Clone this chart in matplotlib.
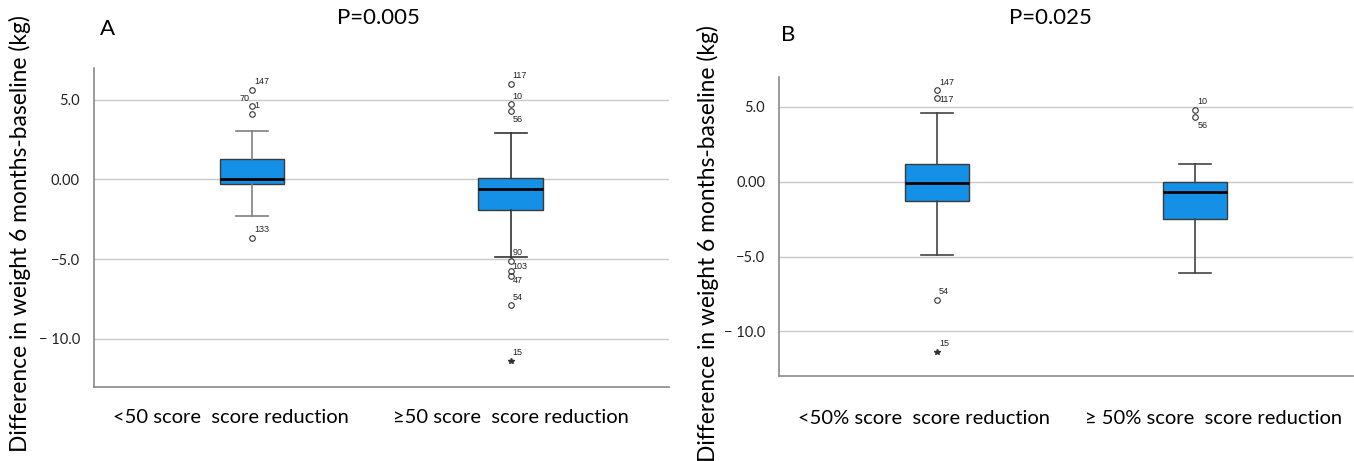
import numpy as np
import matplotlib.pyplot as plt

# --- data ---
groups_a = ["<50 score  score reduction", "\u226550 score  score reduction"]
groups_b = ["<50% score  score reduction", "\u2265 50% score  score reduction"]

a_whislo = [-2.28, -4.88]
a_q1 = [-0.29, -1.90]
a_med = [0.03, -0.58]
a_q3 = [1.31, 0.10]
a_whishi = [3.02, 2.92]
a_out = [[5.60, 4.63, 4.10, -3.69], [6.00, 4.70, 4.30, -5.10, -5.77, -6.08, -7.90]]
a_out_ids = [["147", "70", "1", "133"], ["117", "10", "56", "90", "103", "47", "54"]]
a_ext = [[], [-11.40]]
a_ext_ids = [[], ["15"]]

b_whislo = [-4.87, -6.07]
b_q1 = [-1.29, -2.52]
b_med = [-0.09, -0.69]
b_q3 = [1.20, -0.02]
b_whishi = [4.62, 1.16]
b_out = [[6.10, 5.60, -7.88], [4.80, 4.33]]
b_out_ids = [["147", "117", "54"], ["10", "56"]]
b_ext = [[-11.38], []]
b_ext_ids = [["15"], []]

ytick_vals = [5, 0, -5, -10]
ytick_labels = ["5.0", "0.00", "\u22125.0", "\u2212 10.0"]

# where the id label sits relative to its point (points)
UR = (1.5, 6.0)
label_pos = {
    ("A", 0, "70"): (-2.0, 5.0, "right"),
    ("A", 1, "56"): (1.5, -6.0, "left"),
    ("A", 1, "103"): (1.5, 3.5, "left"),
    ("A", 1, "47"): (1.5, -3.0, "left"),
    ("B", 0, "117"): (1.5, -1.0, "left"),
    ("B", 1, "56"): (1.5, -6.5, "left"),
}

BLUE = "#1490e6"
plt.rcParams["font.family"] = ["Lato", "DejaVu Sans"]

fig = plt.figure(figsize=(13.54, 4.61), dpi=100)
ax_a = fig.add_axes([0.0692, 0.161, 0.4248, 0.692])
ax_b = fig.add_axes([0.5753, 0.184, 0.424, 0.649])


def draw_panel(ax, tag, lo, q1, med, q3, hi, outs, out_ids, exts, ext_ids, names,
               whisk_cols, xpad, label_x):
    stats = []
    for i in range(len(names)):
        stats.append(dict(whislo=lo[i], q1=q1[i], med=med[i], q3=q3[i], whishi=hi[i], fliers=[]))
    for i, s in enumerate(stats):
        ax.bxp([s], positions=[i + 1], widths=0.25, patch_artist=True, showfliers=False,
               boxprops=dict(facecolor=BLUE, edgecolor="#3a3a3a", linewidth=1.0),
               medianprops=dict(color="black", linewidth=2.0),
               whiskerprops=dict(color=whisk_cols[i], linewidth=1.2),
               capprops=dict(color=whisk_cols[i], linewidth=1.2),
               capwidths=0.125, zorder=3)
    for i in range(len(names)):
        x = np.full(len(outs[i]), i + 1.0)
        ax.plot(x, outs[i], "o", ms=4, mfc="none", mec="#333333", mew=0.8, zorder=4)
        xe = np.full(len(exts[i]), i + 1.0)
        ax.plot(xe, exts[i], "*", ms=4, color="#333333", zorder=4)
        for v, lab in list(zip(outs[i], out_ids[i])) + list(zip(exts[i], ext_ids[i])):
            dx, dy, ha = label_pos.get((tag, i, lab), (UR[0], UR[1], "left"))
            ax.annotate(lab, (i + 1, v), xytext=(dx, dy), textcoords="offset points",
                        ha=ha, va="center", fontsize=6.5,
                        family=["Liberation Sans Narrow", "Liberation Sans"], color="#222222")

    ax.set_xlim(0.389, 2.611)
    ax.set_ylim(-13, 7)
    ax.set_yticks(ytick_vals)
    ax.set_yticklabels(ytick_labels)
    # category labels are not quite centred under the boxes in the original
    ax.set_xticks(label_x)
    ax.set_xticklabels(names, fontsize=14.5)
    ax.tick_params(axis="both", length=0)
    ax.tick_params(axis="y", labelsize=10.5, pad=10, labelcolor="#222222")
    ax.tick_params(axis="x", pad=xpad)
    ax.grid(axis="y", color="#c8c8c8", linewidth=1.0, zorder=0)
    ax.set_axisbelow(True)
    for side in ["top", "right"]:
        ax.spines[side].set_visible(False)
    for side in ["left", "bottom"]:
        ax.spines[side].set_color("#8a8a8a")
        ax.spines[side].set_linewidth(1.2)


draw_panel(ax_a, "A", a_whislo, a_q1, a_med, a_q3, a_whishi, a_out, a_out_ids,
           a_ext, a_ext_ids, groups_a, ["#808080", "#333333"], 16, [0.92, 2.0])
draw_panel(ax_b, "B", b_whislo, b_q1, b_med, b_q3, b_whishi, b_out, b_out_ids,
           b_ext, b_ext_ids, groups_b, ["#444444", "#444444"], 24, [0.95, 2.07])

ylab = "Difference in weight 6 months-baseline (kg)"
fig.text(20 / 1354, 1 - 234 / 461, ylab, rotation=90, ha="center", va="center", fontsize=16.4)
fig.text(708 / 1354, 1 - 244 / 461, ylab, rotation=90, ha="center", va="center", fontsize=16.4)

fig.text(108 / 1354, 1 - 29 / 461, "A", ha="center", va="center", fontsize=16)
fig.text(378 / 1354, 1 - 18 / 461, "P=0.005", ha="center", va="center", fontsize=16)
fig.text(788 / 1354, 1 - 35 / 461, "B", ha="center", va="center", fontsize=16)
fig.text(1050 / 1354, 1 - 18 / 461, "P=0.025", ha="center", va="center", fontsize=16)

fig.savefig("out.png", dpi=100)
